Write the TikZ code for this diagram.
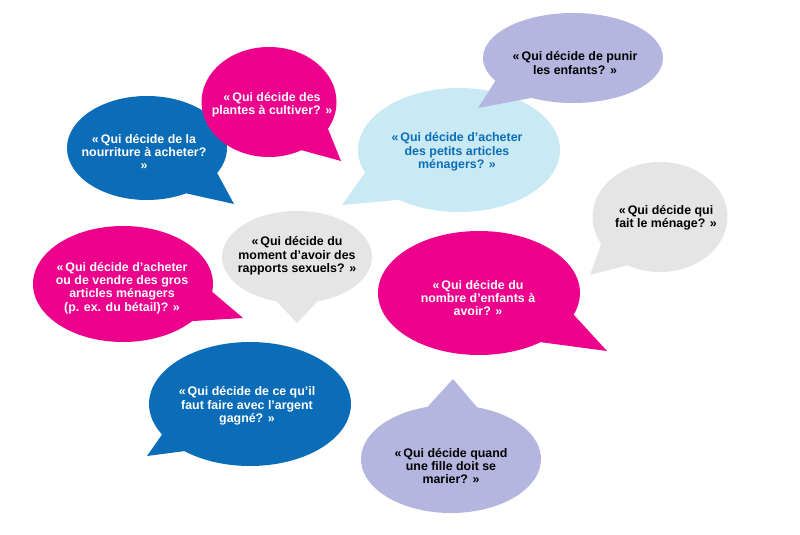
\documentclass[tikz,border=0pt]{standalone}
\usepackage{fontspec}
\setmainfont{Liberation Sans}
\usetikzlibrary{shapes.callouts}

\definecolor{qblue}{HTML}{0B6DB8}
\definecolor{qpink}{HTML}{EC008C}
\definecolor{qsky}{HTML}{C9EAF4}
\definecolor{qlav}{HTML}{B4B6E0}
\definecolor{qgrey}{HTML}{E5E5E5}

\begin{document}
\begin{tikzpicture}[x=1pt,y=-1pt,
  bubble/.style={ellipse callout, inner sep=0pt, outer sep=0pt, callout pointer arc=32},
  txt/.style={align=center, inner sep=0pt, font=\fontsize{12.4}{13.4}\selectfont\bfseries}]

\useasboundingbox (0,0) rectangle (800,535);

% Top left
\node[bubble, fill=qblue, minimum width=160pt, minimum height=104pt,
  callout absolute pointer={(234,204)}] (foodb) at (147,148) {};
\node[txt, text=white] (food) at (144,152) {«\,Qui décide de la\\nourriture à acheter?\\»};

\node[bubble, fill=qpink, minimum width=135pt, minimum height=110pt,
  callout absolute pointer={(341,161)}] (cropb) at (269,102) {};
\node[txt, text=white] (crop) at (272,105) {«\,Qui décide des\\plantes à cultiver? »};

% Top right
\node[bubble, fill=qsky, minimum width=202pt, minimum height=124pt,
  callout absolute pointer={(342,205)}] (smallb) at (459,150) {};
\node[txt, text=qblue] (small) at (457,152) {«\,Qui décide d’acheter\\des petits articles\\ménagers? »};

\node[bubble, fill=qlav, minimum width=180pt, minimum height=90pt,
  callout absolute pointer={(478,108)}] (punishb) at (573,58) {};
\node[txt] (punish) at (575,63) {«\,Qui décide de punir\\les enfants? »};

\node[bubble, fill=qgrey, minimum width=135pt, minimum height=110pt,
  callout absolute pointer={(590,275)}] (choreb) at (660,217) {};
\node[txt] (chore) at (666,218) {«\,Qui décide qui\\fait le ménage? »};

% Middle
\node[bubble, fill=qpink, minimum width=180pt, minimum height=116pt,
  callout absolute pointer={(243,318)}] (bigb) at (123,284) {};
\node[txt, text=white] (big) at (122,288) {«\,Qui décide d’acheter\\ou de vendre des gros\\articles ménagers\\(p. ex. du bétail)? »};

\node[bubble, fill=qgrey, minimum width=150pt, minimum height=92pt,
  callout absolute pointer={(297,323)}] (sexb) at (297,257) {};
\node[txt] (sex) at (297,256) {«\,Qui décide du\\moment d’avoir des\\rapports sexuels? »};

\node[bubble, fill=qpink, minimum width=202pt, minimum height=124pt,
  callout absolute pointer={(607,351)}] (kidsb) at (479,293) {};
\node[txt, text=white] (kids) at (478,298) {«\,Qui décide du\\nombre d’enfants à\\avoir? »};

% Bottom
\node[bubble, fill=qblue, minimum width=202pt, minimum height=124pt, callout pointer arc=20,
  callout absolute pointer={(147,456)}] (moneyb) at (250,404) {};
\node[txt, text=white] (money) at (247,406) {«\,Qui décide de ce qu’il\\faut faire avec l’argent\\gagné? »};

\node[bubble, fill=qlav, minimum width=180pt, minimum height=108pt,
  callout absolute pointer={(453,379)}] (marryb) at (451,459) {};
\node[txt] (marry) at (451,466) {«\,Qui décide quand\\une fille doit se\\marier? »};

\end{tikzpicture}
\end{document}
